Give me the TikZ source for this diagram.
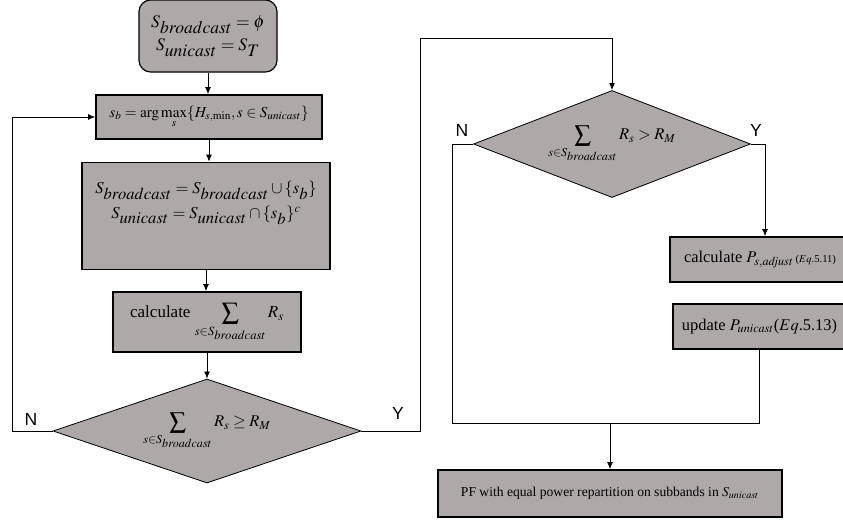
\documentclass[tikz,border=0pt]{standalone}
\usepackage{mathptmx}
\usepackage[no-math]{fontspec}
\setmainfont{Liberation Serif}
\newfontfamily\letrasn{Liberation Sans}
\usetikzlibrary{shapes.geometric,arrows.meta}
\definecolor{cajagris}{RGB}{173,169,169}
% subindice del mismo tamano que el texto
\newcommand{\gsub}[1]{_{\textstyle #1}}
\begin{document}
\begin{tikzpicture}[x=0.03cm, y=-0.03cm,
  >={Latex[length=6pt,width=5pt]},
  inicio/.style={draw, line width=1pt, rounded corners=0.35cm, fill=cajagris,
    align=center, minimum width=4.14cm, minimum height=2.16cm},
  caja/.style={draw, line width=1.4pt, fill=cajagris, align=center, inner sep=2pt},
  decision/.style={diamond, draw, line width=0.7pt, fill=cajagris, aspect=3, inner sep=0pt},
  flecha/.style={->, line width=0.7pt},
  linea/.style={line width=0.7pt},
  etiq/.style={font=\letrasn\fontsize{15}{15}\selectfont}]
\useasboundingbox (0,0) rectangle (843,521);
\clip (0,0) rectangle (843,521);
\begin{scope}
    %——————————————————————————————————————————————
    % Columna izquierda
    %——————————————————————————————————————————————
    % Inicializacion de los conjuntos
    \node[inicio, font=\fontsize{15}{20}\selectfont] (ini) at (208,36)
      {$S\gsub{broadcast} = \phi$\\$S\gsub{unicast} = S\gsub{T}$};
    % Eleccion de s_b
    \node[caja, minimum width=6.78cm, minimum height=1.32cm, font=\fontsize{13}{15}\selectfont]
      (elegir) at (209,117)
      {$s_b = \arg\max\limits_{s}\{H_{s,\min}, s \in S_{unicast}\}$};
    % Actualizacion de los conjuntos
    \node[caja, minimum width=7.44cm, minimum height=3.21cm] (actualizar) at (206,216) {};
    \node[align=center, font=\fontsize{14.2}{21}\selectfont] (actualizartxt) at (206,203)
      {$S\gsub{broadcast} = S\gsub{broadcast} \cup \{s\gsub{b}\}$\\
       $S\gsub{unicast} = S\gsub{unicast} \cap \{s\gsub{b}\}^{c}$};
    % Suma de tasas
    \node[caja, minimum width=5.64cm, minimum height=1.8cm, font=\fontsize{14.5}{17}\selectfont]
      (suma) at (207,322)
      {calculate $\displaystyle\sum_{s\in S_{\scriptstyle broadcast}} R_s$};
    % Primera decision
    \node[decision, minimum width=9.24cm, minimum height=3.12cm, font=\fontsize{14}{16}\selectfont]
      (dec1) at (207,431)
      {$\displaystyle\sum_{s\in S_{\scriptstyle broadcast}} R_s \geq R_M$};

    %——————————————————————————————————————————————
    % Columna derecha
    %——————————————————————————————————————————————
    % Segunda decision
    \node[decision, minimum width=8.31cm, minimum height=3.21cm, font=\fontsize{14}{16}\selectfont]
      (dec2) at (612,144)
      {$\displaystyle\sum_{s\in S_{\scriptstyle broadcast}} R_s > R_M$};
    % Ajuste de potencia
    \node[caja, minimum width=5.4cm, minimum height=1.35cm, font=\fontsize{14}{16}\selectfont]
      (ajuste) at (760,259.5)
      {calculate $P_{s,\mathit{adjust}}$\,{\fontsize{9}{10}\selectfont($Eq$.5.11)}};
    \node[caja, minimum width=5.19cm, minimum height=1.35cm, font=\fontsize{14}{16}\selectfont]
      (potencia) at (759.5,326.5)
      {update $P_{unicast}$($Eq$.5.13)};
    % Caja final
    \node[caja, minimum width=10.32cm, minimum height=1.41cm, font=\fontsize{11.6}{13}\selectfont]
      (final) at (610,493.5)
      {PF with equal power repartition on subbands in $S_{unicast}$};

    %——————————————————————————————————————————————
    % Conexiones
    %——————————————————————————————————————————————
    \coordinate (lazo) at (12,431);
    \coordinate (subida) at (420,38);
    \coordinate (bajaN) at (452,423);
    \coordinate (union) at (610,423);
    \coordinate (giroY) at (765,144);
    \draw[flecha] (ini.south) -- (ini.south |- elegir.north);
    \draw[flecha] (elegir.south) -- (elegir.south |- actualizar.north);
    \draw[flecha] (actualizar.south) -- (actualizar.south |- suma.north);
    \draw[flecha] (suma.south) -- (suma.south |- dec1.north);
    % Rama N: vuelta a la eleccion
    \draw[flecha] (dec1.west) -- (lazo) |- (elegir.west);
    % Rama Y: a la segunda decision
    \draw[flecha] (dec1.east) -| (subida) -| (dec2.north);
    \draw[linea] (dec2.west) -| (bajaN) -- (union);
    \draw[flecha] (dec2.east) -- (giroY) -- (giroY |- ajuste.north);
    \draw[linea] (potencia.south) |- (union);
    \draw[flecha] (union) -- (union |- final.north);

    % Etiquetas N / Y
    \node[etiq] (n1) at (31,419) {N};
    \node[etiq] (y1) at (398,413) {Y};
    \node[etiq] (n2) at (462,130) {N};
    \node[etiq] (y2) at (756,130) {Y};
\end{scope}
\end{tikzpicture}
\end{document}
